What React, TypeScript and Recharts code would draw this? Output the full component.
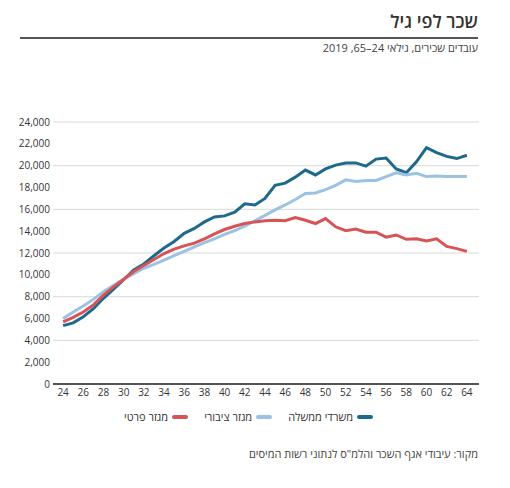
import { LineChart, Line, XAxis, YAxis, CartesianGrid } from "recharts";

const AGES = [
  24, 25, 26, 27, 28, 29, 30, 31, 32, 33, 34, 35, 36, 37, 38, 39, 40, 41, 42, 43, 44,
  45, 46, 47, 48, 49, 50, 51, 52, 53, 54, 55, 56, 57, 58, 59, 60, 61, 62, 63, 64,
];

// משרדי ממשלה
const GOV = [
  5350, 5600, 6150, 6900, 7850, 8700, 9550, 10450, 11000, 11750, 12450, 13050, 13800, 14250, 14850, 15300, 15400, 15750, 16500, 16400, 17000,
  18200, 18400, 18950, 19600, 19150, 19700, 20050, 20250, 20250, 19950, 20600, 20700, 19700, 19350, 20350, 21650, 21200, 20850, 20650, 20950,
];

// מגזר ציבורי
const PUBLIC = [
  6000, 6600, 7150, 7750, 8450, 9050, 9600, 10100, 10600, 10950, 11350, 11750, 12150, 12550, 12950, 13300, 13700, 14050, 14450, 14950, 15450,
  15950, 16400, 16900, 17450, 17500, 17800, 18200, 18700, 18550, 18650, 18650, 19000, 19350, 19150, 19300, 19000, 19050, 19000, 19000, 19000,
];

// מגזר פרטי
const PRIVATE = [
  5700, 6100, 6600, 7250, 8150, 8900, 9600, 10300, 10850, 11400, 11950, 12350, 12650, 12900, 13300, 13750, 14150, 14450, 14700, 14850, 14950,
  15000, 14950, 15250, 15000, 14700, 15150, 14400, 14050, 14200, 13900, 13900, 13450, 13650, 13250, 13300, 13100, 13300, 12600, 12400, 12150,
];

const X_TICKS = [24, 26, 28, 30, 32, 34, 36, 38, 40, 42, 44, 46, 48, 50, 52, 54, 56, 58, 60, 62, 64];
const Y_TICKS = [0, 2000, 4000, 6000, 8000, 10000, 12000, 14000, 16000, 18000, 20000, 22000, 24000];

const SERIES = [
  { key: "gov", name: "משרדי ממשלה", color: "#1d6a8a" },
  { key: "pub", name: "מגזר ציבורי", color: "#9cc2e2" },
  { key: "priv", name: "מגזר פרטי", color: "#d65356" },
];

const data = AGES.map((age, i) => ({ age, gov: GOV[i], pub: PUBLIC[i], priv: PRIVATE[i] }));

const FONT = '"Open Sans", "Liberation Sans", "DejaVu Sans", sans-serif';

export default function App() {
  return (
    <div
      style={{
        position: "absolute", left: 0, top: 0, width: 510, height: 488,
        background: "#fff", fontFamily: FONT, color: "#333",
      }}
    >
      {/* כותרת */}
      <div dir="rtl" style={{ position: "absolute", right: 32, top: 9, fontSize: 18, fontWeight: 600, color: "#333" }}>
        שכר לפי גיל
      </div>
      <div style={{ position: "absolute", left: 20, top: 37, width: 458, height: 2, background: "#555" }} />
      <div dir="rtl" style={{ position: "absolute", right: 32, top: 40, fontSize: 11, color: "#444" }}>
        עובדים שכירים, גילאי 24–65, 2019
      </div>

      <div style={{ position: "absolute", left: 0, top: 110 }}>
        <LineChart width={510} height={294} data={data} margin={{ top: 12, right: 31, bottom: 0, left: 0 }}>
          <CartesianGrid vertical={false} stroke="#d9d9d9" />
          <XAxis
            dataKey="age"
            type="number"
            domain={[23, 65.2]}
            ticks={X_TICKS}
            interval={0}
            tickLine={false}
            tickSize={0}
            tickMargin={5}
            height={20}
            axisLine={{ stroke: "#222", strokeWidth: 1.5 }}
            tick={{ fontSize: 10, fill: "#333", fontFamily: FONT }}
          />
          <YAxis
            domain={[0, 24000]}
            ticks={Y_TICKS}
            width={53}
            axisLine={false}
            tickLine={false}
            tickSize={0}
            tickMargin={3}
            tickFormatter={(v: number) => v.toLocaleString("en-US")}
            tick={{ fontSize: 10, fill: "#333", fontFamily: FONT }}
          />
          {SERIES.map((s) => (
            <Line
              key={s.key}
              type="linear"
              dataKey={s.key}
              name={s.name}
              stroke={s.color}
              strokeWidth={3}
              dot={false}
              isAnimationActive={false}
            />
          ))}
        </LineChart>
      </div>

      {/* מקרא */}
      <div
        dir="rtl"
        style={{ position: "absolute", right: 137, top: 409, display: "flex", alignItems: "center", gap: 16, fontSize: 11, color: "#333" }}
      >
        {SERIES.map((s) => (
          <div key={s.key} style={{ display: "flex", alignItems: "center", gap: 4 }}>
            <span style={{ display: "inline-block", width: 16, height: 4, borderRadius: 2, background: s.color }} />
            <span>{s.name}</span>
          </div>
        ))}
      </div>

      <div dir="rtl" style={{ position: "absolute", right: 32, top: 446, fontSize: 11, color: "#444" }}>
        מקור: עיבודי אגף השכר והלמ"ס לנתוני רשות המיסים
      </div>
    </div>
  );
}
